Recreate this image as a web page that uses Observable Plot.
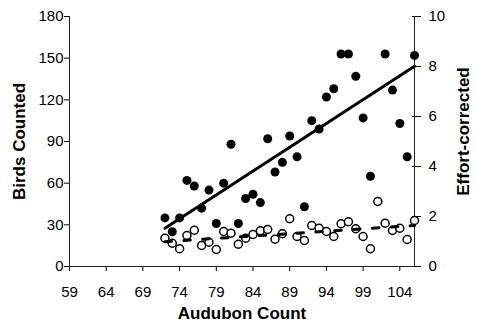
<!DOCTYPE html>
<html><head><meta charset="utf-8">
<script src="https://cdn.jsdelivr.net/npm/d3@7"></script>
<script src="https://cdn.jsdelivr.net/npm/@observablehq/plot@0.6"></script>
<style>
html,body{margin:0;padding:0;background:#fff;}
svg{display:block;}
</style>
</head><body><div id="chart"></div>
<script>
const audubon = [72,73,74,75,76,77,78,79,80,81,82,83,84,85,86,87,88,89,90,91,92,93,94,95,96,97,98,99,100,101,102,103,104,105,106];
const birdsCounted = [35,25,35,62,58,42,55,31,60,88,31,49,52,46,92,68,75,94,79,43,105,99,122,128,153,153,137,107,65,null,153,127,103,79,152];
const effortCorrected = [1.13,0.93,0.71,1.24,1.45,0.84,0.97,0.68,1.4,1.33,0.89,1.13,1.28,1.43,1.48,1.09,1.31,1.91,1.2,1.04,1.64,1.53,1.4,1.2,1.71,1.79,1.51,1.2,0.71,2.6,1.73,1.44,1.53,1.08,1.84];
// linear trend lines (start and end)
const trendX = [72, 106];
const birdsTrend = [27.5, 144.2];
const effortTrend = [0.99, 1.64];
const xTicks = [59,64,69,74,79,84,89,94,99,104];
const leftTicks = [0,30,60,90,120,150,180];
const rightTicks = [0,2,4,6,8,10];
const xTitle = "Audubon Count";
const leftTitle = "Birds Counted";
const rightTitle = "Effort-corrected";
const ratio = 18; // left max 180 / right max 10

const birdsData = audubon.map((x, i) => ({x, y: birdsCounted[i]})).filter(d => d.y != null);
const effortData = audubon.map((x, i) => ({x, y: effortCorrected[i] * ratio}));
const birdsTrendData = trendX.map((x, i) => ({x, y: birdsTrend[i]}));
const effortTrendData = trendX.map((x, i) => ({x, y: effortTrend[i] * ratio}));

const chart = Plot.plot({
  width: 477, height: 321,
  marginLeft: 69, marginRight: 63, marginTop: 16, marginBottom: 55,
  style: {fontFamily: "'Liberation Sans', Arial, sans-serif", fontSize: "15px", color: "black", background: "white", overflow: "visible"},
  x: {domain: [59, 106]},
  y: {domain: [0, 180]},
  marks: [
    Plot.axisX({ticks: xTicks, tickSize: 5, tickPadding: 15, label: null, tickFormat: d => d}),
    Plot.axisY({ticks: leftTicks, tickSize: 5, tickPadding: 1, label: null, tickFormat: d => d}),
    Plot.axisY({anchor: "right", ticks: rightTicks.map(v => v * ratio), tickFormat: v => v / ratio, tickSize: 9, dx: -3, tickPadding: 8, label: null}),
    Plot.ruleX([59], {stroke: "#222"}),
    Plot.ruleX([106], {stroke: "#222"}),
    Plot.ruleY([0], {stroke: "#222"}),
    Plot.dot(birdsData, {x: "x", y: "y", r: 4.5, fill: "black"}),
    Plot.dot(effortData, {x: "x", y: "y", r: 4, fill: "white", stroke: "black", strokeWidth: 1.5}),
    Plot.line(birdsTrendData, {x: "x", y: "y", stroke: "black", strokeWidth: 3}),
    Plot.line(effortTrendData, {x: "x", y: "y", stroke: "black", strokeWidth: 3, strokeDasharray: "6.5,12.4"}),
    Plot.text([leftTitle], {text: d => d, frameAnchor: "left", textAnchor: "middle", dx: -50, rotate: -90, fontWeight: "bold", fontSize: 17}),
    Plot.text([rightTitle], {text: d => d, frameAnchor: "right", textAnchor: "middle", dx: 49, dy: -10, rotate: -90, fontWeight: "bold", fontSize: 17}),
    Plot.text([xTitle], {text: d => d, frameAnchor: "bottom", dy: 52, lineAnchor: "bottom", fontWeight: "bold", fontSize: 17})
  ]
});
document.getElementById("chart").appendChild(chart);
</script>
</body></html>
